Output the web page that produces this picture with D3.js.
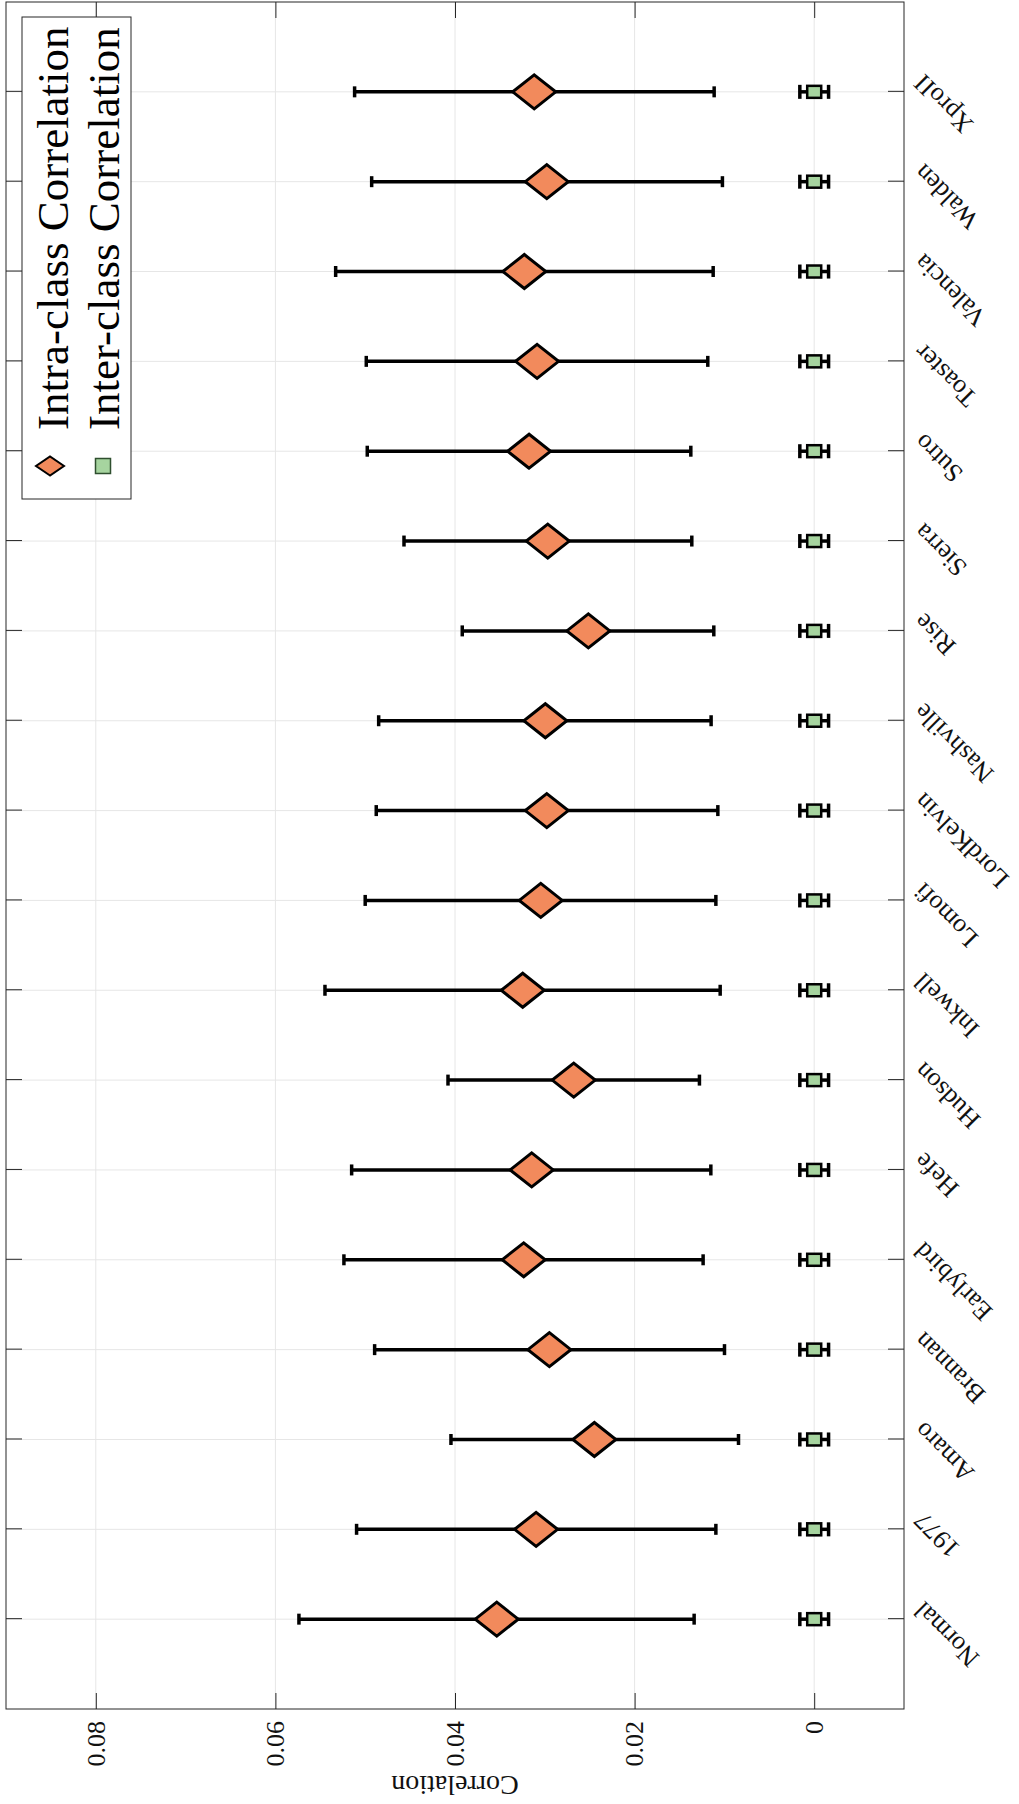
<!DOCTYPE html>
<html>
<head>
<meta charset="utf-8">
<script src="https://cdn.jsdelivr.net/npm/d3@7"></script>
<style>
  html, body { margin: 0; padding: 0; background: #fff; }
  svg { display: block; }
  text { font-family: "Liberation Serif", "Times New Roman", serif; }
</style>
</head>
<body>
<svg id="chart" width="1019" height="1804"></svg>
<script>
// Instagram filter categories, in axis order
const categories = ["Normal", "1977", "Amaro", "Brannan", "Earlybird", "Hefe", "Hudson",
  "Inkwell", "Lomofi", "LordKelvin", "Nashville", "Rise", "Sierra", "Sutro",
  "Toaster", "Valencia", "Walden", "XproII"];

// Intra-class correlation: mean with lower / upper error-bar ends
const intraMean = [0.03535, 0.03097, 0.02448, 0.02949, 0.03235, 0.03146, 0.02678, 0.03246, 0.03045,
  0.02978, 0.02994, 0.02515, 0.02967, 0.03175, 0.03086, 0.03228, 0.02978, 0.03118];
const intraLow = [0.01337, 0.01095, 0.00843, 0.00999, 0.01237, 0.01151, 0.01278, 0.01047, 0.01095,
  0.01073, 0.01148, 0.01118, 0.01363, 0.01374, 0.01185, 0.01125, 0.01022, 0.01114];
const intraHigh = [0.05738, 0.05096, 0.04045, 0.04895, 0.05237, 0.05151, 0.04078, 0.05448, 0.05000,
  0.04877, 0.04850, 0.03919, 0.04568, 0.04977, 0.04988, 0.05329, 0.04928, 0.05118];

// Inter-class correlation: mean and half-width of the error bar
const interMean = [0, 0, 0, 0, 0, 0, 0, 0, 0, 0, 0, 0, 0, 0, 0, 0, 0, 0];
const interErr = [0.0016, 0.0016, 0.0016, 0.0016, 0.0016, 0.0016, 0.0016, 0.0016, 0.0016,
  0.0016, 0.0016, 0.0016, 0.0016, 0.0016, 0.0016, 0.0016, 0.0016, 0.0016];

// Value axis ticks
const valueTicks = [0, 0.02, 0.04, 0.06, 0.08];
const valueTickLabels = ["0", "0.02", "0.04", "0.06", "0.08"];

const legendLabels = ["Intra-class Correlation", "Inter-class Correlation"];

const INTRA_FILL = "#f28a5c";
const INTER_FILL = "#a6d49f";
const AXIS_COLOR = "#262626";
const GRID_COLOR = "#e6e6e6";

// The plot is laid out as an ordinary vertical chart, then turned a quarter turn
// counter-clockwise so the categories run bottom-to-top on the page.
const W = 1707, H = 898;
const svg = d3.select("#chart");
const g = svg.append("g").attr("transform", "translate(6,1709) rotate(-90)");

const x = d3.scaleLinear().domain([0, categories.length + 1]).range([0, W]);
const y = d3.scaleLinear().domain([-0.01, 0.09]).range([H, 0]);
const catPos = categories.map((d, i) => i + 1);

// grid
const grid = g.append("g");
grid.selectAll("line.gx").data(catPos).join("line")
  .attr("x1", d => x(d)).attr("x2", d => x(d)).attr("y1", 0).attr("y2", H)
  .attr("stroke", GRID_COLOR).attr("stroke-width", 1);
grid.selectAll("line.gy").data(valueTicks).join("line")
  .attr("x1", 0).attr("x2", W).attr("y1", d => y(d)).attr("y2", d => y(d))
  .attr("stroke", GRID_COLOR).attr("stroke-width", 1);

// error bars
function errorBars(sel, lows, highs, cap) {
  const bars = sel.selectAll("g").data(categories).join("g");
  bars.append("line")
    .attr("x1", (d, i) => x(i + 1)).attr("x2", (d, i) => x(i + 1))
    .attr("y1", (d, i) => y(lows[i])).attr("y2", (d, i) => y(highs[i]));
  bars.append("line")
    .attr("x1", (d, i) => x(i + 1) - cap / 2).attr("x2", (d, i) => x(i + 1) + cap / 2)
    .attr("y1", (d, i) => y(lows[i])).attr("y2", (d, i) => y(lows[i]));
  bars.append("line")
    .attr("x1", (d, i) => x(i + 1) - cap / 2).attr("x2", (d, i) => x(i + 1) + cap / 2)
    .attr("y1", (d, i) => y(highs[i])).attr("y2", (d, i) => y(highs[i]));
}

const intraBars = g.append("g").attr("stroke", "#000").attr("stroke-width", 3.5);
errorBars(intraBars, intraLow, intraHigh, 11);

const interBars = g.append("g").attr("stroke", "#000").attr("stroke-width", 3.5);
errorBars(interBars,
  interMean.map((m, i) => m - interErr[i]),
  interMean.map((m, i) => m + interErr[i]), 14);

// markers
const diamond = (hu, hv) => `M${-hu},0L0,${-hv}L${hu},0L0,${hv}Z`;
g.append("g").selectAll("path").data(intraMean).join("path")
  .attr("transform", (d, i) => `translate(${x(i + 1)},${y(d)})`)
  .attr("d", diamond(17, 21.5))
  .attr("fill", INTRA_FILL).attr("stroke", "#000").attr("stroke-width", 3)
  .attr("stroke-linejoin", "miter");

g.append("g").selectAll("rect").data(interMean).join("rect")
  .attr("x", (d, i) => x(i + 1) - 6).attr("y", d => y(d) - 7)
  .attr("width", 12).attr("height", 14)
  .attr("fill", INTER_FILL).attr("stroke", "#000").attr("stroke-width", 2.5);

// axes (ticks point inward on all four sides)
const fontFam = '"Liberation Serif", "Times New Roman", serif';
const yAxis = g.append("g")
  .call(d3.axisLeft(y).tickValues(valueTicks).tickFormat((d, i) => valueTickLabels[i])
    .tickSize(-16).tickSizeOuter(0).tickPadding(12))
  .attr("color", AXIS_COLOR).attr("font-size", 26).attr("font-family", fontFam);
yAxis.select(".domain").remove();
yAxis.selectAll("text").attr("fill", "#111");

g.append("g").attr("transform", `translate(${W},0)`)
  .call(d3.axisRight(y).tickValues(valueTicks).tickFormat("").tickSize(-16).tickSizeOuter(0))
  .attr("color", AXIS_COLOR).select(".domain").remove();

const xAxis = g.append("g").attr("transform", `translate(0,${H})`)
  .call(d3.axisBottom(x).tickValues(catPos).tickFormat(d => categories[d - 1])
    .tickSize(-16).tickSizeOuter(0))
  .attr("color", AXIS_COLOR).attr("font-size", 26).attr("font-family", fontFam);
xAxis.select(".domain").remove();
xAxis.selectAll("text")
  .attr("x", 0).attr("y", 0).attr("dy", "0.35em")
  .attr("text-anchor", "end").attr("fill", "#111")
  .attr("transform", "translate(12,14) rotate(-45)");

g.append("g")
  .call(d3.axisTop(x).tickValues(catPos).tickFormat("").tickSize(-16).tickSizeOuter(0))
  .attr("color", AXIS_COLOR).select(".domain").remove();

// frame
g.append("rect").attr("x", 0).attr("y", 0).attr("width", W).attr("height", H)
  .attr("fill", "none").attr("stroke", AXIS_COLOR).attr("stroke-width", 1);

// value-axis title
g.append("text")
  .attr("transform", `translate(-67,${H / 2}) rotate(-90)`)
  .attr("text-anchor", "middle").attr("font-size", 28).attr("fill", "#111")
  .text("Correlation");

// legend
const lg = g.append("g").attr("transform", "translate(1210,16)");
lg.append("rect").attr("width", 482).attr("height", 109)
  .attr("fill", "#fff").attr("stroke", AXIS_COLOR).attr("stroke-width", 1);
lg.append("path").attr("transform", "translate(33,28)")
  .attr("d", diamond(9.5, 14)).attr("fill", INTRA_FILL)
  .attr("stroke", "#000").attr("stroke-width", 2);
lg.append("rect").attr("x", 33 - 7.5).attr("y", 81 - 7.5).attr("width", 15).attr("height", 15)
  .attr("fill", INTER_FILL).attr("stroke", "#2f4f2f").attr("stroke-width", 1.5);
lg.selectAll("text").data(legendLabels).join("text")
  .attr("x", 69).attr("y", (d, i) => 46 + i * 51)
  .attr("font-size", 45).attr("fill", "#000")
  .text(d => d);
</script>
</body>
</html>
